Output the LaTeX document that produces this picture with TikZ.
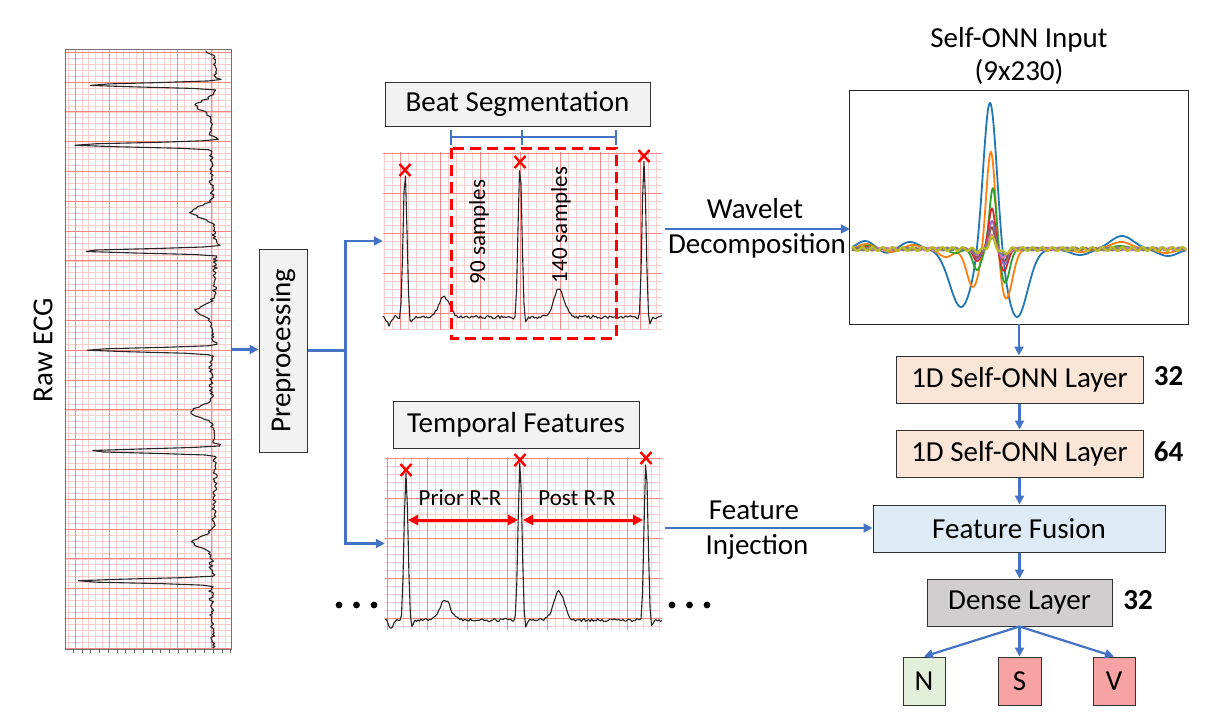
\documentclass[tikz,border=0pt]{standalone}
\usepackage{fontspec}
\setmainfont{Carlito}
\usepackage{graphicx}
\usetikzlibrary{arrows.meta,calc}
\definecolor{ablue}{HTML}{4472C4}
\definecolor{gmin}{HTML}{FFCCCC}
\definecolor{gmaj}{HTML}{FF8585}
\definecolor{xred}{HTML}{FF0000}
\definecolor{lgray}{HTML}{F2F2F2}
\definecolor{peach}{HTML}{FBE5D6}
\definecolor{lblue}{HTML}{DEEBF7}
\definecolor{dgray}{HTML}{D0CECE}
\definecolor{lgreen}{HTML}{E2F0D9}
\definecolor{lred}{HTML}{F8A3A3}
\definecolor{cA}{HTML}{1F77B4}
\definecolor{cB}{HTML}{FF7F0E}
\definecolor{cC}{HTML}{2CA02C}
\definecolor{cD}{HTML}{D62728}
\definecolor{cE}{HTML}{9467BD}
\definecolor{cF}{HTML}{8C564B}
\definecolor{cG}{HTML}{E377C2}
\definecolor{cH}{HTML}{7F7F7F}
\definecolor{cI}{HTML}{BCBD22}
\newcommand\myBig{\fontsize{29}{35}\selectfont}
\newcommand\mySmall{\fontsize{23}{28}\selectfont}
\begin{document}
\begin{tikzpicture}[x=1pt,y=-1pt,
  declare function={
    H(\va)=exp(-\va*\va);
    G(\va,\vb)=H(min(abs(\va)/\vb,3.5));
    B(\va,\vb,\vc)=\vb*G(\va,2.8)-7*G(\va+4,2)-9*G(\va-5,2.2)+\vc*G(\va-39,7.5);
  },
  arr/.style={draw=ablue,line width=2.2pt,-{Triangle[length=9pt,width=9pt]}},
  bline/.style={draw=ablue,line width=2.2pt},
  blk/.style={draw=black!80,line width=1pt,inner sep=0pt,font=\myBig},
  gminor/.style={draw=gmin,line width=0.6pt},
  gmajor/.style={draw=gmaj,line width=0.9pt},
  ecg/.style={draw=black!85,line width=1.1pt,line join=round},
  xmk/.style={draw=xred,line width=2.4pt},
  curve/.style={line width=1.8pt,line join=round},
  txt/.style={font=\myBig,inner sep=0pt},
]
\useasboundingbox[fill=white] (0,0) rectangle (1220,726);
\pgfmathsetseed{7}

% ---------- Raw ECG strip ----------
\node[minimum width=165pt,minimum height=599pt,inner sep=0pt] (strip) at (148.5,349.5) {};
\foreach \x in {68.16,75,...,231} \draw[gminor] (\x,50) -- (\x,649);
\foreach \y in {52.2,58.16,...,649} \draw[gminor] (66,\y) -- (231,\y);
\foreach \x in {75,109.2,...,231} \draw[gmajor] (\x,50) -- (\x,649);
\foreach \y in {52.2,82,...,649} \draw[gmajor] (66,\y) -- (231,\y);
\draw[ecg] plot[variable=\yy,domain=51:648,samples=400]
  ({213+2*sin(1.7*\yy)-B(85-\yy,125,15)-B(145-\yy,139,17)-B(251-\yy,135,22)-B(350-\yy,126,17)-B(451-\yy,127,21)-B(581-\yy,136,19)+2.2*rand},\yy);
\draw[black!55,line width=1.2pt] (strip.south west) rectangle (strip.north east);
\foreach \x in {73.3,82.05,...,231} \draw[black!60,line width=0.8pt] (\x,649) -- (\x,653);
\node[txt] (rawlbl) at (43,350) {\rotatebox{90}{Raw ECG}};

% ---------- Preprocessing ----------
\node[blk,fill=lgray,minimum width=48pt,minimum height=203pt] (prep) at (283,350.5) {\rotatebox{90}{Preprocessing}};
\draw[arr] (strip.east) -- (strip.east -| prep.west);

% ---------- Beat segmentation strip ----------
\node[minimum width=279pt,minimum height=178pt,inner sep=0pt] (segstrip) at (522.5,241) {};
\foreach \x in {384,392,...,662} \draw[gminor] (\x,152) -- (\x,330);
\foreach \y in {153,161,...,330} \draw[gminor] (383,\y) -- (662,\y);
\foreach \x in {400,440,...,662} \draw[gmajor] (\x,152) -- (\x,330);
\foreach \y in {153,193,...,330} \draw[gmajor] (383,\y) -- (662,\y);
\draw[ecg] plot[domain=383:662,samples=187]
  (\x,{317-B(\x-405,144,20)-B(\x-520,152,28)-B(\x-644,157,0)+8*G(\x-389,3)+1.6*rand});
\node[blk,fill=lgray,minimum width=265pt,minimum height=44pt] (segbox) at (517.5,104) {Beat Segmentation};
\draw[xred,line width=3pt,dash pattern=on 11pt off 6pt] (451,148) rectangle (616,338);
\draw[bline] (451,137) -- (616,137);
\foreach \x in {451,522,616} \draw[bline] (\x,130) -- (\x,145);
\node[font=\mySmall,rotate=90] (s90) at (479,232) {90 samples};
\node[font=\mySmall,rotate=90] (s140) at (561,225) {140 samples};

% ---------- Temporal features strip ----------
\node[minimum width=277pt,minimum height=173pt,inner sep=0pt] (tempstrip) at (523.5,543.5) {};
\foreach \x in {387,395,...,662} \draw[gminor] (\x,457) -- (\x,630);
\foreach \y in {458,466,...,630} \draw[gminor] (385,\y) -- (662,\y);
\foreach \x in {387,427,...,662} \draw[gmajor] (\x,457) -- (\x,630);
\foreach \y in {458,498,...,630} \draw[gmajor] (385,\y) -- (662,\y);
\draw[ecg] plot[domain=385:662,samples=186]
  (\x,{620-B(\x-406,147,20)-B(\x-520,157,28)-B(\x-646,159,0)+8*G(\x-391,3)+1.6*rand});
\node[blk,fill=lgray,minimum width=246pt,minimum height=47pt] (tempbox) at (516,424.5) {Temporal Features};
\draw[xred,line width=3pt,{Triangle[length=10pt,width=10pt]}-{Triangle[length=10pt,width=10pt]}] (408,520) -- (518,520);
\draw[xred,line width=3pt,{Triangle[length=10pt,width=10pt]}-{Triangle[length=10pt,width=10pt]}] (523,520) -- (643,520);
\node[font=\mySmall,anchor=base,inner sep=0pt] (prior) at (460,505) {Prior R-R};
\node[font=\mySmall,anchor=base,inner sep=0pt] (post) at (577,505) {Post R-R};
\foreach \x in {339,356.5,374,672,689.5,707} \fill[black] (\x,605) circle[radius=3.4pt];

% R-peak marks
\foreach \p in {(405,170),(520,162),(644,156),(406,470),(520,460),(646,458)}
  \draw[xmk] \p ++(-5.5,-6) -- ++(11,12) ++(-11,0) -- ++(11,-12);

% ---------- branch from preprocessing ----------
\coordinate (br) at ($(prep.east)+(38,0)$);
\draw[bline] (prep.east) -- (br);
\draw[arr] (br) |- (segstrip.west);
\draw[arr] (br) |- (tempstrip.west);

% ---------- Self-ONN input plot ----------
\node[txt,anchor=base] (title1) at (1019,47) {Self-ONN Input};
\node[txt,anchor=base] (title2) at (1019,80) {(9x230)};
\node[minimum width=338pt,minimum height=233pt,inner sep=0pt] (plot) at (1019,207.5) {};
\begin{scope}
\clip (plot.south west) rectangle (plot.north east);
\draw[curve,cA] plot[domain=852:1186,samples=335] (\x,{249-(151*G(\x-990,9.5)-58*G(\x-961,16)-68*G(\x-1017,15)+8*G(\x-865,11)-4*G(\x-887,9)+7*G(\x-910,12)-6*G(\x-1080,14)+13*G(\x-1122,16)-7*G(\x-1168,14))});
\draw[curve,cB] plot[domain=852:1186,samples=335] (\x,{249-(101*G(\x-991,6.5)-38*G(\x-973,9)-50*G(\x-1006,9)-8*G(\x-946,10)+5*G(\x-866,10)-3*G(\x-891,9)+4*G(\x-913,10)-3*G(\x-1081,12)+7*G(\x-1121,14)-4*G(\x-1166,12))});
\draw[curve,cC] plot[domain=852:1186,samples=335] (\x,{249-(62*G(\x-993,5)-21*G(\x-977,6)-34*G(\x-1005,6.5)-4*G(\x-955,8)+3*G(\x-867,10)+3*G(\x-1120,12))});
\draw[curve,cD] plot[domain=852:1186,samples=335] (\x,{249-(41*G(\x-992,4.5)-12*G(\x-977,5)-22*G(\x-1004,5.5)+2*G(\x-866,9))});
\draw[curve,cE] plot[domain=852:1186,samples=335] (\x,{249-(27*G(\x-992,4.5)-9*G(\x-977,5)-15*G(\x-1004,5)+1.2*sin(40*(\x-990)))});
\draw[curve,cF] plot[domain=852:1186,samples=335] (\x,{249-(21*G(\x-992,4.2)-7*G(\x-977,5)-11*G(\x-1004,5)+1.2*sin(38*(\x-990)+60))});
\draw[curve,cG] plot[domain=852:1186,samples=335] (\x,{249-(15*G(\x-992,4)-5*G(\x-977,5)-8*G(\x-1004,5)+1.5*sin(42*(\x-990)+120))});
\draw[curve,cH] plot[domain=852:1186,samples=335] (\x,{249-(12*G(\x-992,4)-4*G(\x-977,5)-6*G(\x-1004,5)+1.5*sin(45*(\x-990)+200))});
\draw[curve,cI,line width=2.2pt] plot[domain=852:1186,samples=335] (\x,{249-(11*G(\x-992,4)-2*G(\x-978,5)-4*G(\x-1004,5)+2*sin(36*(\x-990)))});
\end{scope}
\draw[black!85,line width=1.1pt] (plot.south west) rectangle (plot.north east);

% wavelet arrow
\coordinate (wv) at (665,229);
\draw[arr] (wv) -- (wv -| plot.west);
\node[txt,anchor=base] (wlab) at (755,218) {Wavelet};
\node[txt,anchor=base] (dlab) at (757,253) {Decomposition};

% ---------- network column ----------
\node[blk,fill=peach,minimum width=247pt,minimum height=47pt] (l1) at (1019.5,379.5) {1D Self-ONN Layer};
\node[blk,fill=peach,minimum width=247pt,minimum height=47pt] (l2) at (1019.5,453.5) {1D Self-ONN Layer};
\node[blk,fill=lblue,minimum width=292pt,minimum height=47pt] (fusion) at (1019,528.5) {Feature Fusion};
\node[blk,fill=dgray,minimum width=185pt,minimum height=47pt] (dense) at (1019.5,602.5) {Dense Layer};
\node[blk,fill=lgreen,minimum width=42pt,minimum height=48pt] (N) at (924,681) {N};
\node[blk,fill=lred,minimum width=43pt,minimum height=48pt] (S) at (1019.5,681) {S};
\node[blk,fill=lred,minimum width=42pt,minimum height=48pt] (V) at (1114,681) {V};
\node[txt,font=\myBig\bfseries] (n1) at (1168.5,376.5) {32};
\node[txt,font=\myBig\bfseries] (n2) at (1168.5,451.5) {64};
\node[txt,font=\myBig\bfseries] (n3) at (1138,600) {32};

\draw[arr] (plot.south) -- (plot.south |- l1.north);
\draw[arr] (l1.south) -- (l2.north);
\draw[arr] (l2.south) -- (l2.south |- fusion.north);
\draw[arr] (fusion.south -| dense.south) -- (dense.north);
\draw[arr] (dense.south) -- (N.north);
\draw[arr] (dense.south) -- (S.north);
\draw[arr] (dense.south) -- (V.north);

% feature injection
\coordinate (fi) at (665,528);
\draw[arr] (fi) -- (fi -| fusion.west);
\node[txt,anchor=base] (flab) at (754,519) {Feature};
\node[txt,anchor=base] (ilab) at (757,554) {Injection};
\end{tikzpicture}
\end{document}
